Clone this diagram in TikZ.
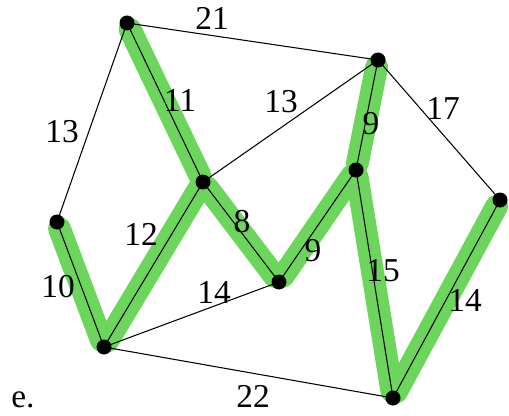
\documentclass[tikz,border=0pt]{standalone}
\usepackage{fontspec}
\setmainfont{Liberation Serif}
\usetikzlibrary{positioning}
\definecolor{marker}{RGB}{108,214,92}
\tikzset{
  csucs/.style={circle,fill=black,inner sep=0pt,minimum size=0.3cm},
  el/.style={line width=0.6pt},
  kiemel/.style={line width=13pt,marker,line cap=round,shorten <=4pt,shorten >=4pt},
  suly/.style={font=\fontsize{19}{22}\selectfont,inner sep=1pt},
}
\begin{document}
\begin{tikzpicture}[x=0.02cm,y=-0.02cm]
  \useasboundingbox (0,0) rectangle (509,415);
  % csucsok helye
  \coordinate (a) at (127,23);
  \coordinate (b) at (378,60);
  \coordinate (c) at (500,200);
  \coordinate (d) at (57,222);
  \coordinate (e) at (203,182);
  \coordinate (f) at (356,170);
  \coordinate (g) at (279,282);
  \coordinate (h) at (104,347);
  \coordinate (i) at (393,398);
  % feszitofa kiemelese
  \foreach \u/\v in {a/e,e/h,h/d,e/g,g/f,f/b,f/i,i/c}
    \draw[kiemel] (\u) -- (\v);
  % elek
  \foreach \u/\v in {a/b,a/d,a/e,e/b,b/f,b/c,d/h,h/e,e/g,g/f,h/g,f/i,c/i,h/i}
    \draw[el] (\u) -- (\v);
  % csucsok
  \foreach \n in {a,b,c,d,e,f,g,h,i}
    \node[csucs] (\n v) at (\n) {};
  % sulyok
  \node[suly] (w1)  at (212,18)  {21};
  \node[suly] (w2)  at (62,132)  {13};
  \node[suly] (w3)  at (180,100) {11};
  \node[suly] (w4)  at (281,102) {13};
  \node[suly] (w5)  at (371,124) {9};
  \node[suly] (w6)  at (443,108) {17};
  \node[suly] (w7)  at (141,234) {12};
  \node[suly] (w8)  at (242,222) {8};
  \node[suly] (w9)  at (58,287)  {10};
  \node[suly] (w10) at (214,292) {14};
  \node[suly] (w11) at (313,251) {9};
  \node[suly] (w12) at (383,271) {15};
  \node[suly] (w13) at (465,300) {14};
  \node[suly] (w14) at (253,396) {22};
  \node[suly] (cim) at (23,400)  {e.};
\end{tikzpicture}
\end{document}
